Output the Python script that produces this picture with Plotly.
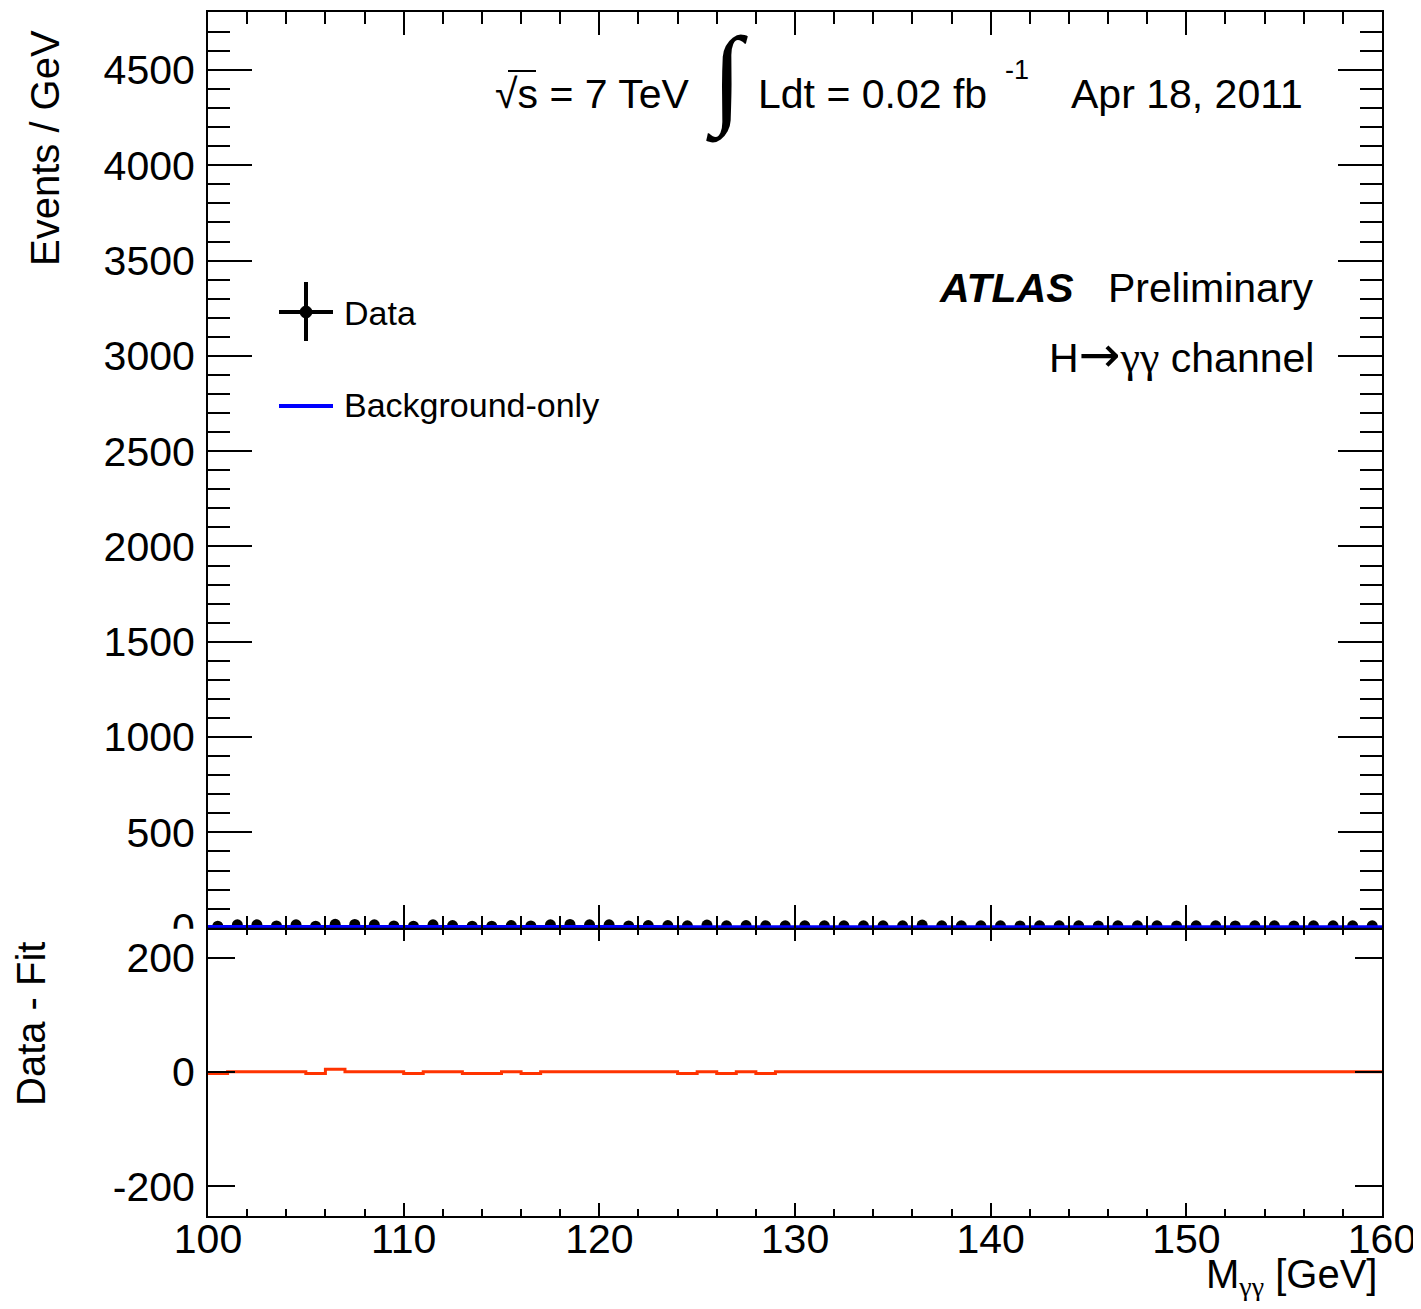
import plotly.graph_objects as go

# ---------------- data ----------------
bin_centers = [100.5, 101.5, 102.5, 103.5, 104.5, 105.5, 106.5, 107.5, 108.5, 109.5,
               110.5, 111.5, 112.5, 113.5, 114.5, 115.5, 116.5, 117.5, 118.5, 119.5,
               120.5, 121.5, 122.5, 123.5, 124.5, 125.5, 126.5, 127.5, 128.5, 129.5,
               130.5, 131.5, 132.5, 133.5, 134.5, 135.5, 136.5, 137.5, 138.5, 139.5,
               140.5, 141.5, 142.5, 143.5, 144.5, 145.5, 146.5, 147.5, 148.5, 149.5,
               150.5, 151.5, 152.5, 153.5, 154.5, 155.5, 156.5, 157.5, 158.5, 159.5]

events_per_gev = [8, 15, 15, 9, 15, 8, 18, 17, 15, 9,
                  8, 15, 11, 8, 8, 11, 9, 15, 17, 15,
                  15, 9, 11, 11, 10, 14, 10, 11, 10, 10,
                  10, 10, 10, 10, 10, 10, 14, 10, 10, 10,
                  10, 9, 10, 10, 10, 9, 10, 10, 10, 9,
                  10, 10, 9, 10, 10, 9, 10, 10, 10, 10]

fit_mass = [100, 105, 110, 115, 120, 125, 130, 135, 140, 145, 150, 155, 160]
fit_values = [4.2, 3.9, 3.6, 3.4, 3.2, 3.0, 2.8, 2.7, 2.6, 2.5, 2.4, 2.3, 2.2]

bin_edges = [100, 101, 102, 103, 104, 105, 106, 107, 108, 109,
             110, 111, 112, 113, 114, 115, 116, 117, 118, 119,
             120, 121, 122, 123, 124, 125, 126, 127, 128, 129,
             130, 131, 132, 133, 134, 135, 136, 137, 138, 139,
             140, 141, 142, 143, 144, 145, 146, 147, 148, 149,
             150, 151, 152, 153, 154, 155, 156, 157, 158, 159, 160]

data_minus_fit = [-2.5, 0.5, 0.5, 0.5, 0.5, -2.5, 5.0, 0.5, 0.5, 0.5,
                  -2.5, 0.5, 0.5, -2.5, -2.5, 0.5, -2.5, 0.5, 0.5, 0.5,
                  0.5, 0.5, 0.5, 0.5, -2.5, 0.5, -2.5, 0.5, -2.5, 0.5,
                  0.5, 0.5, 0.5, 0.5, 0.5, 0.5, 0.5, 0.5, 0.5, 0.5,
                  0.5, 0.5, 0.5, 0.5, 0.5, 0.5, 0.5, 0.5, 0.5, 0.5,
                  0.5, 0.5, 0.5, 0.5, 0.5, 0.5, 0.5, 0.5, 0.5, 0.5]

top_yticks = [0, 500, 1000, 1500, 2000, 2500, 3000, 3500, 4000, 4500]
bottom_yticks = [-200, 0, 200]
bottom_yticklabels = ["-200", "0", "200"]
x_ticks = [100, 110, 120, 130, 140, 150, 160]

# ---------------- layout geometry (page pixels) ----------------
OFF = 8                      # default body margin of the page
W, H = 1413, 1293            # figure size so that page = 1421 x 1309
PL, PR, PT, PB = 208, 1382, 12, 1216   # plot area in page pixels
L = PL - OFF
T = PT - OFF
R = W - (PR - OFF)
B = H - (PB - OFF)
PW = PR - PL
PH = PB - PT
SPLIT = (PB - 927.7) / PH
FONT = "Liberation Sans, Arial, Helvetica, sans-serif"
SERIF = "Liberation Serif, Times New Roman, serif"


def px(x):
    return (x - PL) / PW


def py(y):
    return (PB - y) / PH


fig = go.Figure()

fig.add_trace(go.Scatter(
    x=bin_centers, y=events_per_gev, mode="markers",
    marker=dict(color="black", size=11, line=dict(width=0)),
    xaxis="x2", yaxis="y2", showlegend=False))

fig.add_trace(go.Scatter(
    x=fit_mass, y=fit_values, mode="lines",
    line=dict(color="#0000ff", width=4, shape="spline"),
    xaxis="x2", yaxis="y2", showlegend=False))

fig.add_trace(go.Scatter(
    x=bin_edges, y=data_minus_fit + [data_minus_fit[-1]], mode="lines",
    line=dict(color="#ff3300", width=3, shape="hv"),
    xaxis="x", yaxis="y", showlegend=False))

axis_common = dict(showline=True, linecolor="black", linewidth=2, mirror="ticks",
                   ticks="inside", tickcolor="black", tickwidth=2,
                   showgrid=False, zeroline=False,
                   tickfont=dict(family=FONT, size=41, color="black"))

minor_common = dict(ticks="inside", tickcolor="black", tickwidth=2, showgrid=False)

fig.update_layout(
    width=W, height=H,
    margin=dict(l=L, r=R, t=T, b=B, autoexpand=False),
    paper_bgcolor="white", plot_bgcolor="white",
    font=dict(family=FONT, color="black"),
    showlegend=False,
    xaxis=dict(axis_common, domain=[0, 1], anchor="y", range=[100, 160],
               tickvals=x_ticks, ticklen=13,
               minor=dict(minor_common, dtick=2, ticklen=7),
               ticklabelstandoff=-14),
    yaxis=dict(axis_common, domain=[0, SPLIT], anchor="x", range=[-252, 253],
               tickvals=bottom_yticks, ticktext=bottom_yticklabels,
               ticklen=27, ticklabelstandoff=3),
    xaxis2=dict(axis_common, domain=[0, 1], anchor="y2", range=[100, 160],
                matches="x", tickvals=x_ticks, ticklen=23, showticklabels=False,
                minor=dict(minor_common, dtick=2, ticklen=12)),
    yaxis2=dict(axis_common, domain=[SPLIT, 1], anchor="x2", range=[0, 4804],
                tickvals=top_yticks, ticklen=44,
                minor=dict(minor_common, dtick=100, ticklen=22),
                ticklabelstandoff=3),
)

shapes = []
# hide the lower half of the top pad's "0" label (covered by the lower pad)
shapes.append(dict(type="rect", xref="paper", yref="paper",
                   x0=px(80), x1=px(205), y0=py(943), y1=py(928.7),
                   fillcolor="white", line=dict(width=0), layer="above"))
# overline of the square root
shapes.append(dict(type="line", xref="paper", yref="paper",
                   x0=px(508), x1=px(536), y0=py(71), y1=py(71),
                   line=dict(color="black", width=2), layer="above"))
# legend symbols
shapes.append(dict(type="line", xref="paper", yref="paper",
                   x0=px(279), x1=px(333), y0=py(312), y1=py(312),
                   line=dict(color="black", width=4), layer="above"))
shapes.append(dict(type="line", xref="paper", yref="paper",
                   x0=px(306), x1=px(306), y0=py(282), y1=py(341),
                   line=dict(color="black", width=4), layer="above"))
shapes.append(dict(type="circle", xref="paper", yref="paper",
                   x0=px(300), x1=px(312), y0=py(306), y1=py(318),
                   fillcolor="black", line=dict(color="black", width=1), layer="above"))
shapes.append(dict(type="line", xref="paper", yref="paper",
                   x0=px(279), x1=px(333), y0=py(406), y1=py(406),
                   line=dict(color="#0000ff", width=4), layer="above"))
fig.update_layout(shapes=shapes)


def ann(text, x, y, size=41, xanchor="left", yanchor="middle", textangle=0, family=FONT):
    fig.add_annotation(text=text, xref="paper", yref="paper", x=px(x), y=py(y),
                       xanchor=xanchor, yanchor=yanchor, showarrow=False,
                       textangle=textangle,
                       font=dict(family=family, size=size, color="black"))


ann("√s = 7 TeV", 493, 94)
ann("∫", 727, 79, size=110, xanchor="center", family=SERIF)
ann("Ldt = 0.02 fb", 756, 94)
ann("-1", 1003, 70, size=27)
ann("Apr 18, 2011", 1069, 94)
ann("<b><i>ATLAS</i></b>", 937, 288)
ann("Preliminary", 1106, 288)
ann("H<span style='font-family:DejaVu Sans;font-size:50px'>→</span>"
    "<span style='font-family:Liberation Serif;font-size:44px'>γγ</span> channel",
    1316, 355, xanchor="right")
ann("Data", 342, 313, size=34)
ann("Background-only", 342, 405, size=34)
ann("Events / GeV", 45, 28, size=40, xanchor="center", yanchor="top", textangle=-90)
ann("Data - Fit", 31, 940, size=40, xanchor="center", yanchor="top", textangle=-90)
ann("M<sub><span style='font-family:Liberation Serif'>γγ</span></sub> [GeV]",
    1379, 1277, size=40, xanchor="right")

fig.write_html("out.html")
